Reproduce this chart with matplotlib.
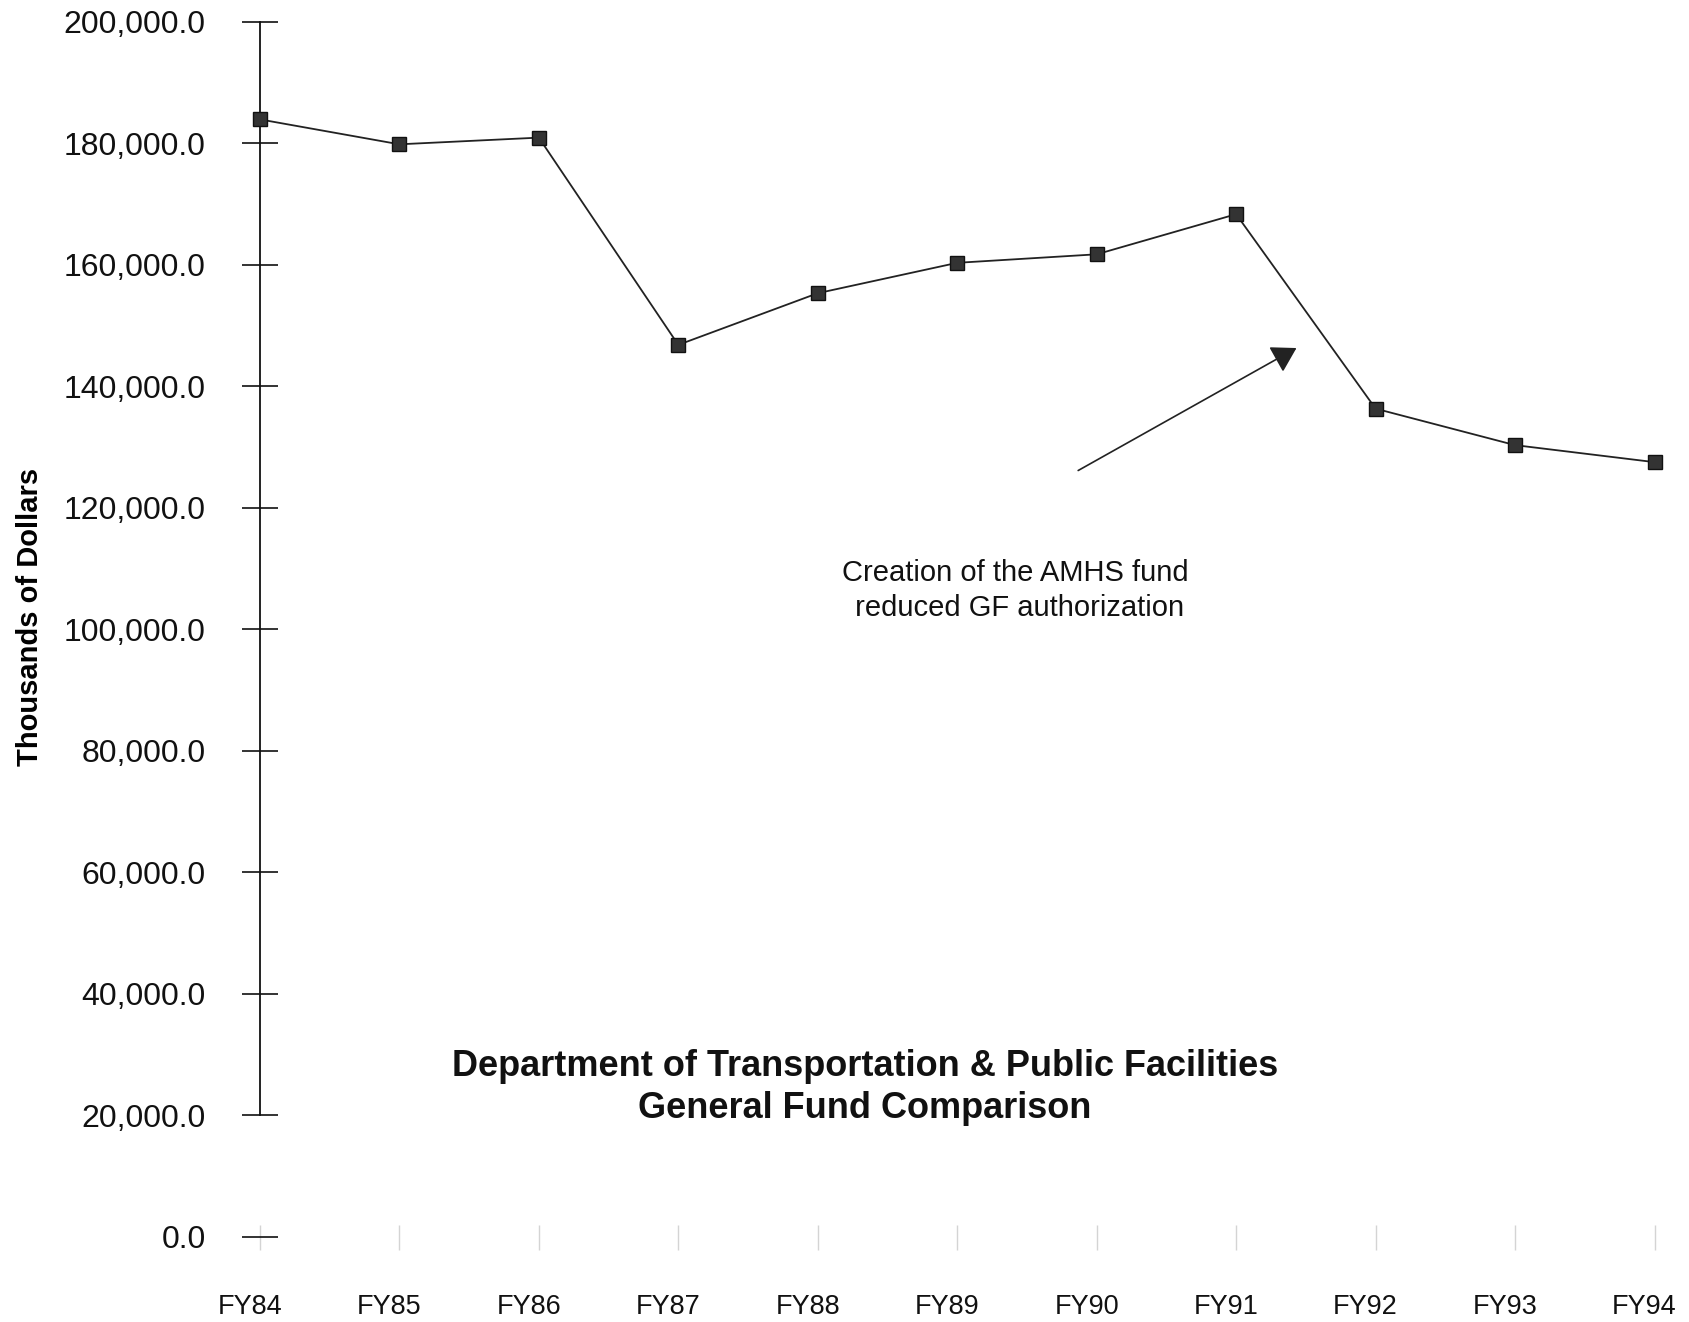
import matplotlib.pyplot as plt
from matplotlib.ticker import FuncFormatter
from matplotlib.transforms import ScaledTranslation

# General Fund, thousands of dollars
years = ["FY84", "FY85", "FY86", "FY87", "FY88", "FY89", "FY90", "FY91", "FY92", "FY93", "FY94"]
valores = [183900, 179800, 180900, 146800, 155300, 160300, 161700, 168300, 136300, 130300, 127500]
yticks = [0, 20000, 40000, 60000, 80000, 100000, 120000, 140000, 160000, 180000, 200000]

plt.rcParams['font.family'] = ['Liberation Sans', 'DejaVu Sans']

fig = plt.figure(figsize=(16.9, 13.22), dpi=100)
ax = fig.add_axes([0.1538, 0.0643, 0.8252, 0.9194])

x = list(range(len(years)))
ax.plot(x, valores, color="#222222", linewidth=1.3, marker="s", markersize=10,
        markerfacecolor="#333333", markeredgecolor="#111111", clip_on=False, zorder=3)

ax.set_xlim(0, len(years) - 1)
ax.set_ylim(0, 200000)

ax.set_yticks(yticks)
ax.yaxis.set_major_formatter(FuncFormatter(lambda v, p: "{:,.1f}".format(v)))
ax.tick_params(axis="y", direction="inout", length=26, width=1.2, pad=26,
               labelsize=23, colors="#111111")
ax.set_xticks(x)
ax.set_xticklabels(years)
ax.tick_params(axis="x", direction="inout", length=18, width=1.0, pad=32,
               labelsize=19.5, color="#d4d4d4", labelcolor="#111111")
desloc = ScaledTranslation(-10 / 100, 0, fig.dpi_scale_trans)
for lbl in ax.get_xticklabels():
    lbl.set_transform(lbl.get_transform() + desloc)

for s in ["top", "right", "bottom"]:
    ax.spines[s].set_visible(False)
ax.spines["left"].set_bounds(20000, 200000)
ax.spines["left"].set_linewidth(1.3)
ax.spines["left"].set_color("#111111")

ax.set_ylabel("Thousands of Dollars", fontsize=21, fontweight="bold")
ax.yaxis.set_label_coords(-0.155, 0.51)

# anotacao
ax.annotate("", xy=(7.45, 146500), xytext=(5.85, 125900),
            arrowprops=dict(arrowstyle="-|>,head_length=1.5,head_width=0.9",
                            color="#222222", lw=1.2))
ax.text(5.42, 106400, "Creation of the AMHS fund\n reduced GF authorization",
        ha="center", va="center", fontsize=21, linespacing=1.3, color="#111111")

ax.text(4.34, 24600, "Department of Transportation & Public Facilities\nGeneral Fund Comparison",
        ha="center", va="center", fontsize=26, fontweight="bold", linespacing=1.25,
        color="#111111")

plt.savefig("out.png", dpi=100)
